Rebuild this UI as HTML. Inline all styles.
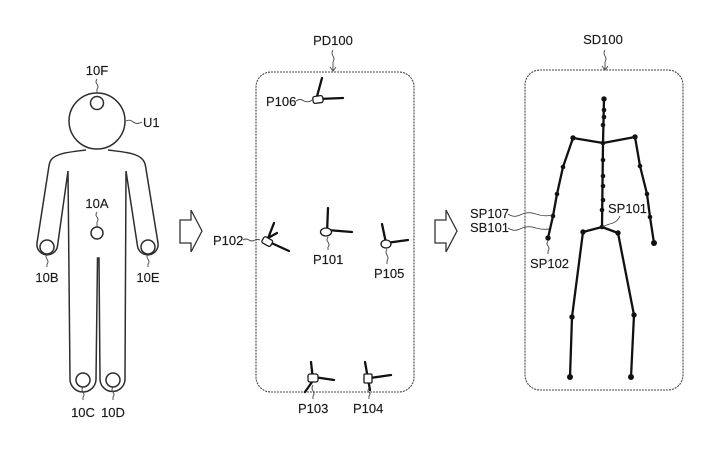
<!DOCTYPE html>
<html><head><meta charset="utf-8"><style>
html,body{margin:0;padding:0;background:#fff;}
svg{display:block;}
text{font-family:"Liberation Sans",sans-serif;font-size:13px;fill:#1a1a1a;stroke:#1a1a1a;stroke-width:0.15;}
</style></head><body>
<svg width="708" height="463" viewBox="0 0 708 463" xmlns="http://www.w3.org/2000/svg">
<rect width="708" height="463" fill="#fff"/>
<!-- Human body -->
<g fill="none" stroke="#2e2e2e" stroke-width="1.5">
  <circle cx="97" cy="121" r="28"/>
  <circle cx="97" cy="103" r="6.5"/>
  <circle cx="97" cy="233" r="6"/>
  <circle cx="47" cy="247" r="7"/>
  <circle cx="148" cy="247" r="7"/>
  <circle cx="83" cy="380" r="7"/>
  <circle cx="113" cy="380" r="7"/>
  <path d="M86 150 C70 152 56 153 51 160 C49 163 49 166 48.5 169 L37 243 A10.3 10.3 0 0 0 57.5 246 L68 171 L70 379 A13 13 0 0 0 96 379 L97.5 258 L99 258 L100 379 A12.5 12.5 0 0 0 125 379 L126 171 L137.5 246 A10.3 10.3 0 0 0 158 243 L146 169 C145.5 166 145.5 163 143 160 C138 153 124 152 108 150"/>
</g>
<!-- body leaders -->
<g fill="none" stroke="#444" stroke-width="0.9">
  <path d="M97 79 q-2 3 0 5 q2 3 0 5 l0 4"/>
  <path d="M126 121 q4 -2 7 1 q4 3 9 0"/>
  <path d="M97 212 q-2 3 0 5 q2 3 0 5 l0 5"/>
  <path d="M47 254 q-2 3 0 5 q2 3 0 5 l0 3"/>
  <path d="M148 254 q-2 3 0 5 q2 3 0 5 l0 3"/>
  <path d="M83 387 q-2 3 0 5 q2 3 0 5 l0 3"/>
  <path d="M113 387 q-2 3 0 5 q2 3 0 5 l0 3"/>
</g>
<text x="97" y="75" text-anchor="middle">10F</text>
<text x="143" y="127">U1</text>
<text x="97" y="208" text-anchor="middle">10A</text>
<text x="47" y="282" text-anchor="middle">10B</text>
<text x="148" y="282" text-anchor="middle">10E</text>
<text x="83" y="417" text-anchor="middle">10C</text>
<text x="113" y="417" text-anchor="middle">10D</text>

<!-- Block arrows -->
<g fill="#fff" stroke="#333" stroke-width="1.3">
  <polygon points="180,220 191,220 191,210 202,231 191,252 191,243 180,243"/>
  <polygon points="435,220 446,220 446,210 457,231 446,252 446,243 435,243"/>
</g>

<!-- PD100 box -->
<rect x="256" y="72" width="158" height="320" rx="15" fill="none" stroke="#444" stroke-width="1.1" stroke-dasharray="2 1"/>
<g fill="none" stroke="#444" stroke-width="0.9">
  <path d="M333 50 q-2 3 0 6 q2 3 0 6 l0 9"/>
  <path d="M330 67 l3 4 l3 -4"/>
  <path d="M605 50 q-2 3 0 6 q2 3 0 6 l0 7"/>
  <path d="M602 66 l3 4 l3 -4"/>
</g>
<text x="333" y="45" text-anchor="middle">PD100</text>
<text x="603" y="44" text-anchor="middle">SD100</text>

<!-- Sensors -->
<g stroke="#111" stroke-width="2.3" fill="none" stroke-linecap="round">
  <!-- P106 -->
  <line x1="322" y1="78" x2="316" y2="100"/>
  <line x1="318" y1="99" x2="343" y2="98"/>
  <!-- P102 -->
  <line x1="274" y1="223" x2="267" y2="241"/>
  <line x1="267" y1="241" x2="289" y2="251"/>
  <line x1="268" y1="238" x2="277" y2="233"/>
  <!-- P101 -->
  <line x1="328" y1="208" x2="327" y2="233"/>
  <line x1="327" y1="230" x2="352" y2="232"/>
  <!-- P105 -->
  <line x1="382" y1="224" x2="386" y2="243"/>
  <line x1="386" y1="243" x2="408" y2="240"/>
  <!-- P103 -->
  <line x1="311" y1="362" x2="313" y2="380"/>
  <line x1="314" y1="377" x2="334" y2="380"/>
  <line x1="312" y1="382" x2="305" y2="392"/>
  <!-- P104 -->
  <line x1="365" y1="362" x2="370" y2="390"/>
  <line x1="370" y1="378" x2="391" y2="375"/>
</g>
<g fill="#fff" stroke="#1a1a1a" stroke-width="1.3">
  <rect x="313" y="96" width="10" height="7" rx="2" transform="rotate(-8 318 100)"/>
  <rect x="262" y="238" width="10" height="7" rx="2" transform="rotate(30 267 242)"/>
  <ellipse cx="326" cy="232" rx="5.5" ry="4"/>
  <ellipse cx="386" cy="244" rx="5" ry="4"/>
  <rect x="308" y="374" width="10" height="8" rx="2"/>
  <rect x="364" y="374" width="8" height="9" rx="1"/>
</g>
<g fill="none" stroke="#444" stroke-width="0.9">
  <path d="M296 101 q4 -3 8 0 q4 2 8 -1"/>
  <path d="M243 240 q3 -2 6 0 q3 2 6 0 q3 -1 5 0"/>
  <path d="M328 237 q-2 3 0 5 q2 3 0 5 l0 3"/>
  <path d="M387 249 q-2 3 0 6 q2 3 0 6 l0 3"/>
  <path d="M313 385 q-2 3 0 6 q2 3 0 5 l0 3"/>
  <path d="M369 388 q-2 3 0 4 q2 2 0 4 l0 3"/>
</g>
<text x="266" y="106">P106</text>
<text x="213" y="245">P102</text>
<text x="313" y="264">P101</text>
<text x="374" y="278">P105</text>
<text x="298" y="413">P103</text>
<text x="353" y="413">P104</text>

<!-- SD100 box -->
<rect x="525" y="70" width="158" height="320" rx="15" fill="none" stroke="#444" stroke-width="1.1" stroke-dasharray="2 1"/>

<!-- Skeleton -->
<g stroke="#111" stroke-width="2.3" fill="none" stroke-linejoin="round">
  <polyline points="604,99 603,143 602,227"/>
  <polyline points="573,138 603,143 635,137"/>
  <polyline points="573,138 563,167 557,194 553,216 548,238"/>
  <polyline points="635,137 640,166 647,194 650,217 654,243"/>
  <polyline points="583,232 602,227 618,233"/>
  <polyline points="583,232 572,317 570,377"/>
  <polyline points="618,233 634,315 631,377"/>
</g>
<g fill="#111">
  <circle cx="604" cy="99" r="2.7"/>
  <circle cx="604" cy="110" r="2.3"/>
  <circle cx="604" cy="117" r="2.3"/>
  <circle cx="603" cy="125" r="2.3"/>
  <circle cx="603" cy="143" r="2.3"/>
  <circle cx="603" cy="160" r="2.3"/>
  <circle cx="603" cy="176" r="2.3"/>
  <circle cx="603" cy="186" r="2.3"/>
  <circle cx="603" cy="200" r="2.3"/>
  <circle cx="602" cy="210" r="2.3"/>
  <circle cx="602" cy="227" r="2.3"/>
  <circle cx="573" cy="138" r="2.7"/>
  <circle cx="635" cy="137" r="2.7"/>
  <circle cx="563" cy="167" r="2.3"/>
  <circle cx="557" cy="194" r="2.3"/>
  <circle cx="553" cy="216" r="2.3"/>
  <circle cx="548" cy="238" r="2.7"/>
  <circle cx="640" cy="166" r="2.3"/>
  <circle cx="647" cy="194" r="2.3"/>
  <circle cx="650" cy="217" r="2.3"/>
  <circle cx="654" cy="243" r="3"/>
  <circle cx="583" cy="232" r="2.7"/>
  <circle cx="618" cy="233" r="2.7"/>
  <circle cx="572" cy="317" r="2.7"/>
  <circle cx="634" cy="315" r="2.7"/>
  <circle cx="570" cy="377" r="3"/>
  <circle cx="631" cy="377" r="3"/>
</g>
<g fill="none" stroke="#444" stroke-width="0.9">
  <path d="M508 214 q6 4 12 1 q8 -4 16 -1 q8 3 16 1"/>
  <path d="M508 228 q6 4 12 1 q8 -4 16 -1 q7 2 13 1"/>
  <path d="M620 216 q-2 5 -7 7 q-7 2 -11 4"/>
  <path d="M548 241 q-2 3 0 5 q2 3 0 5 l0 3"/>
</g>
<text x="470" y="218">SP107</text>
<text x="470" y="232">SB101</text>
<text x="608" y="213">SP101</text>
<text x="530" y="268">SP102</text>
</svg>
</body></html>
